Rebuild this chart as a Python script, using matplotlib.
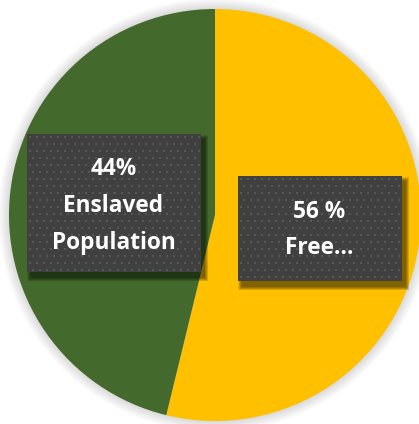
import numpy as np
import matplotlib
matplotlib.use("Agg")
import matplotlib.pyplot as plt
from matplotlib.patches import Rectangle, Circle

# Data
categories = ["Free", "Enslaved Population"]
shares = [53.8, 46.2]           # slice sizes as drawn
label_texts = ["56 %\nFree…", "44%\nEnslaved\nPopulation"]
colors = ["#FFC000", "#436A2C"]

W, H = 419, 424
fig = plt.figure(figsize=(W / 100, H / 100), dpi=100)
fig.patch.set_facecolor("white")
ax = fig.add_axes([0, 0, 1, 1])


def Y(y):  # pixel row (from top) -> data y
    return H - y


cx, cy, R = 215, 215, 206

# soft shadow around the pie
for k in range(12, 0, -1):
    ax.add_patch(Circle((cx, Y(cy)), R + k * 0.9, facecolor="#000000", alpha=0.012, lw=0, zorder=0))

ax.pie(shares, colors=colors, startangle=90, counterclock=False,
       center=(cx, Y(cy)), radius=R, wedgeprops=dict(linewidth=0), frame=True)

ax.set_aspect("equal")
ax.axis("off")


def dotted_box(x0, y0, x1, y1, text, ty):
    # shadow (offset right/down, blurred)
    for k in range(8, 0, -1):
        ax.add_patch(Rectangle((x0 + 4 - k * 0.5, Y(y1 + 5 + k * 0.5)),
                               (x1 - x0) + k * 1.0, (y1 - y0) + k * 1.0,
                               facecolor="black", alpha=0.08, lw=0, zorder=3))
    w, h = int(x1 - x0), int(y1 - y0)
    img = np.zeros((h, w, 3))
    img[:] = np.array([0x40, 0x40, 0x40]) / 255
    dot = np.array([0x57, 0x57, 0x57]) / 255
    for r in range(0, h, 7):
        off = 0 if (r // 7) % 2 == 0 else 3
        for c in range(off + 2, w, 7):
            img[r + 2:r + 4, c:c + 2] = dot
    ax.imshow(img, extent=(x0, x1, Y(y1), Y(y0)), origin="upper", zorder=4, interpolation="nearest")
    ax.text((x0 + x1) / 2, Y(ty), text, ha="center", va="center", color="white",
            fontsize=16.3, fontweight="bold", family=["Open Sans", "DejaVu Sans"],
            linespacing=1.7, zorder=5)


dotted_box(238, 176, 401, 281, label_texts[0], 230)
dotted_box(27, 134, 200, 272, label_texts[1], 206)

ax.set_xlim(0, W)
ax.set_ylim(0, H)

fig.savefig("out.png", dpi=100)
